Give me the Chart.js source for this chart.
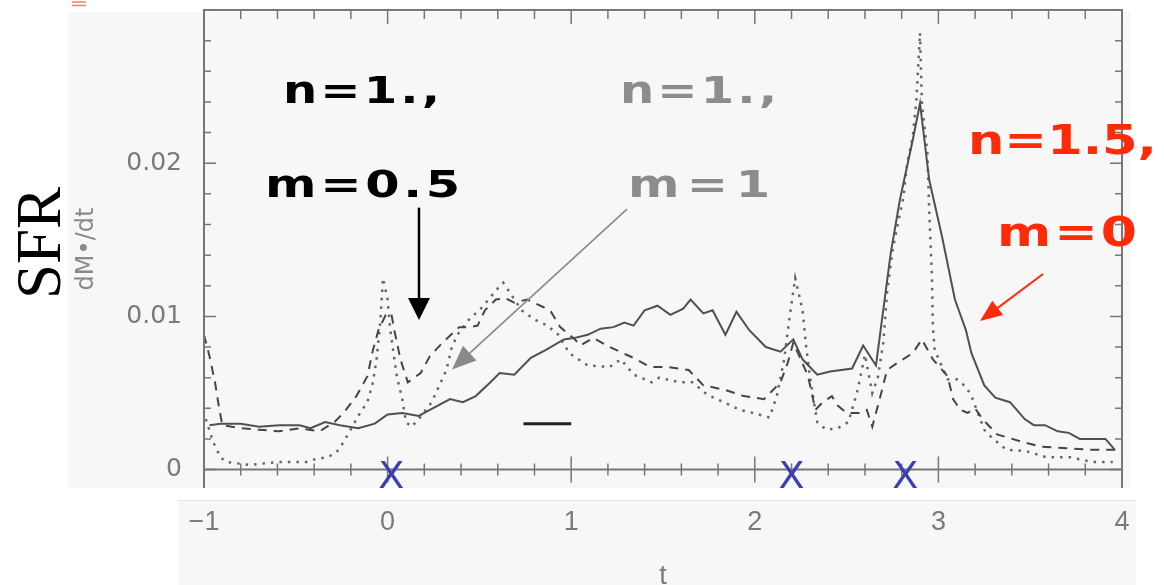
<!DOCTYPE html>
<html><head><meta charset="utf-8">
<script src="https://cdn.jsdelivr.net/npm/chart.js@4.4.0/dist/chart.umd.min.js"></script>
<style>html,body{margin:0;padding:0;background:#fff;}canvas{display:block;}</style>
</head><body>
<canvas id="c" width="1164" height="585"></canvas>
<script>
// ---- data ----
const solidT = [-0.97,-0.91,-0.80,-0.70,-0.59,-0.48,-0.42,-0.34,-0.26,-0.16,-0.07,0.00,0.08,0.17,0.20,0.34,0.41,0.48,0.56,0.61,0.69,0.78,0.86,0.96,1.02,1.09,1.16,1.23,1.29,1.34,1.40,1.47,1.54,1.61,1.65,1.72,1.77,1.84,1.90,1.97,2.06,2.14,2.21,2.26,2.34,2.41,2.53,2.59,2.66,2.74,2.79,2.86,2.90,2.95,3.02,3.09,3.15,3.18,3.25,3.31,3.39,3.47,3.52,3.58,3.65,3.71,3.77,3.85,3.91,3.96];
const solidV = [0.0029,0.0030,0.0030,0.0028,0.0029,0.0029,0.0027,0.0031,0.0029,0.0027,0.0030,0.0036,0.0037,0.0035,0.0037,0.0046,0.0044,0.0048,0.0057,0.0063,0.0062,0.0073,0.0078,0.0085,0.0086,0.0088,0.0092,0.0093,0.0096,0.0094,0.0104,0.0107,0.0101,0.0105,0.0111,0.0102,0.0104,0.0088,0.0103,0.0091,0.0080,0.0077,0.0085,0.0072,0.0062,0.0064,0.0066,0.0081,0.0068,0.0141,0.0176,0.0215,0.0239,0.0189,0.0152,0.0111,0.0091,0.0076,0.0055,0.0047,0.0044,0.0033,0.0029,0.0029,0.0025,0.0024,0.0020,0.0020,0.0020,0.0013];

const dashedT = [-1.00,-0.97,-0.94,-0.92,-0.90,-0.80,-0.70,-0.59,-0.48,-0.37,-0.29,-0.24,-0.17,-0.11,-0.08,-0.05,-0.01,0.02,0.04,0.07,0.11,0.18,0.23,0.30,0.39,0.45,0.49,0.53,0.59,0.64,0.69,0.76,0.85,0.89,0.94,1.02,1.05,1.12,1.21,1.32,1.43,1.52,1.64,1.72,1.84,1.94,2.05,2.14,2.18,2.21,2.29,2.33,2.37,2.42,2.45,2.50,2.57,2.61,2.64,2.68,2.72,2.78,2.86,2.91,2.97,3.05,3.08,3.12,3.16,3.20,3.24,3.32,3.46,3.56,3.70,3.83,3.97];
const dashedV = [0.0088,0.0074,0.0057,0.0042,0.0029,0.0027,0.0026,0.0025,0.0027,0.0025,0.0031,0.0037,0.0048,0.0061,0.0078,0.0091,0.0101,0.0102,0.0089,0.0072,0.0057,0.0063,0.0074,0.0083,0.0093,0.0093,0.0094,0.0104,0.0111,0.0112,0.0109,0.0111,0.0106,0.0103,0.0093,0.0085,0.0081,0.0086,0.0080,0.0074,0.0067,0.0067,0.0065,0.0055,0.0052,0.0048,0.0046,0.0057,0.0070,0.0083,0.0061,0.0039,0.0044,0.0048,0.0042,0.0037,0.0037,0.0039,0.0028,0.0046,0.0065,0.0070,0.0076,0.0085,0.0072,0.0061,0.0046,0.0039,0.0037,0.0040,0.0033,0.0023,0.0018,0.0015,0.0014,0.0013,0.0013];

const dottedT = [-0.99,-0.95,-0.91,-0.88,-0.75,-0.60,-0.52,-0.44,-0.39,-0.33,-0.28,-0.24,-0.15,-0.11,-0.08,-0.06,-0.04,-0.025,0.00,0.013,0.03,0.05,0.08,0.10,0.13,0.17,0.24,0.29,0.32,0.35,0.38,0.45,0.50,0.55,0.59,0.63,0.68,0.73,0.80,0.87,0.93,0.99,1.09,1.21,1.27,1.34,1.44,1.48,1.59,1.66,1.74,1.83,1.92,1.99,2.08,2.12,2.16,2.19,2.22,2.26,2.28,2.30,2.34,2.39,2.45,2.51,2.56,2.60,2.64,2.67,2.70,2.72,2.75,2.78,2.81,2.83,2.86,2.88,2.90,2.91,2.94,2.95,2.965,2.97,2.98,3.05,3.10,3.15,3.18,3.25,3.29,3.37,3.48,3.59,3.72,3.84,3.95];
const dottedV = [0.0033,0.0018,0.0008,0.0005,0.0003,0.0005,0.0005,0.0005,0.0007,0.0008,0.0011,0.0018,0.0037,0.0044,0.0057,0.0072,0.0096,0.0125,0.0111,0.0093,0.0078,0.0061,0.0046,0.0031,0.0028,0.0033,0.0044,0.0057,0.0065,0.0080,0.0088,0.0099,0.0104,0.0111,0.0117,0.0122,0.0113,0.0104,0.0098,0.0094,0.0088,0.0076,0.0068,0.0067,0.0072,0.0062,0.0057,0.0060,0.0057,0.0057,0.0049,0.0044,0.0039,0.0037,0.0034,0.0048,0.0072,0.0100,0.0125,0.0104,0.0080,0.0061,0.0031,0.0026,0.0027,0.0031,0.0052,0.0075,0.0050,0.0060,0.0083,0.0115,0.0143,0.0161,0.0178,0.0200,0.0217,0.0241,0.0285,0.0239,0.0207,0.0169,0.0126,0.0093,0.0078,0.0059,0.0059,0.0054,0.0048,0.0026,0.0021,0.0013,0.0012,0.0008,0.0008,0.0005,0.0005];

const barT = [0.74, 1.00];
const barV = [0.003, 0.003];

const markerT = [0.02, 2.20, 2.82];   // blue X marks on the time axis

const xTickValues = [-1, 0, 1, 2, 3, 4];
const xTickLabels = ['\u22121', '0', '1', '2', '3', '4'];
const yTickValues = [0, 0.01, 0.02];
const yTickLabels = ['0', '0.01', '0.02'];

// ---- helpers ----
const pts = (t, v) => t.map((x, i) => ({x: x, y: v[i]}));

function arrow(ctx, x1, y1, x2, y2, color, lw, hl, hw) {
  const a = Math.atan2(y2 - y1, x2 - x1);
  const bx = x2 - hl * Math.cos(a), by = y2 - hl * Math.sin(a);
  ctx.save();
  ctx.strokeStyle = color; ctx.fillStyle = color; ctx.lineWidth = lw;
  ctx.beginPath(); ctx.moveTo(x1, y1); ctx.lineTo(bx, by); ctx.stroke();
  ctx.beginPath();
  ctx.moveTo(x2, y2);
  ctx.lineTo(bx + hw / 2 * Math.sin(a), by - hw / 2 * Math.cos(a));
  ctx.lineTo(bx - hw / 2 * Math.sin(a), by + hw / 2 * Math.cos(a));
  ctx.closePath(); ctx.fill();
  ctx.restore();
}

function handText(ctx, text, left, baseline, width, size, color) {
  ctx.save();
  ctx.font = 'bold ' + size + 'px "DejaVu Sans"';
  let w = ctx.measureText(text).width;
  let scale = width / w;
  const maxScale = 1.3;
  if (scale > maxScale && 'letterSpacing' in ctx) {
    const sp = (width / maxScale - w) / (text.length - 1);
    ctx.letterSpacing = sp + 'px';
    w = ctx.measureText(text).width - sp;
    scale = width / w;
  }
  ctx.translate(left, baseline);
  ctx.scale(scale, 1);
  ctx.fillStyle = color;
  ctx.textBaseline = 'alphabetic';
  ctx.textAlign = 'left';
  ctx.fillText(text, 0, 0);
  ctx.restore();
}

const decor = {
  id: 'decor',
  beforeDraw(chart) {
    const ctx = chart.ctx, a = chart.chartArea;
    ctx.save();
    ctx.fillStyle = '#ffffff'; ctx.fillRect(0, 0, chart.width, chart.height);
    ctx.fillStyle = '#f7f7f7';
    ctx.fillRect(68, a.top + 2, a.right + 8 - 68, a.bottom - a.top - 2);
    ctx.fillRect(178, a.bottom + 12, a.right + 14 - 178, chart.height - a.bottom - 12);
    ctx.strokeStyle = '#e2e2ea'; ctx.lineWidth = 1;
    ctx.beginPath(); ctx.moveTo(178, a.bottom + 12.5); ctx.lineTo(a.right + 14, a.bottom + 12.5); ctx.stroke();
    // small red fragment at the very top-left
    ctx.strokeStyle = '#f08070'; ctx.lineWidth = 1.5;
    ctx.beginPath(); ctx.moveTo(72, 2); ctx.lineTo(86, 2); ctx.moveTo(72, 5.5); ctx.lineTo(86, 5.5); ctx.stroke();
    ctx.restore();
  },
  afterDatasetsDraw(chart) {
    const ctx = chart.ctx, a = chart.chartArea, xs = chart.scales.x, ys = chart.scales.y;
    ctx.save();
    ctx.strokeStyle = '#777'; ctx.lineWidth = 2;
    // frame (left, top, right)
    ctx.beginPath();
    ctx.moveTo(a.left, a.bottom); ctx.lineTo(a.left, a.top); ctx.lineTo(a.right, a.top); ctx.lineTo(a.right, a.bottom);
    ctx.stroke();
    // zero line
    const y0 = ys.getPixelForValue(0);
    ctx.beginPath(); ctx.moveTo(a.left, y0); ctx.lineTo(a.right, y0); ctx.stroke();
    // y ticks, left and right, inward
    ctx.lineWidth = 1.5;
    for (let i = 0; i <= 15; i++) {
      const py = ys.getPixelForValue(i * 0.002);
      const len = (i % 5 === 0) ? 12 : 7;
      ctx.beginPath();
      ctx.moveTo(a.left, py); ctx.lineTo(a.left + len, py);
      ctx.moveTo(a.right, py); ctx.lineTo(a.right - len, py);
      ctx.stroke();
    }
    // x ticks: top (inward) and on the zero line (both sides)
    for (let i = 0; i <= 25; i++) {
      const px = xs.getPixelForValue(-1 + i * 0.2);
      const major = i % 5 === 0;
      ctx.beginPath();
      ctx.moveTo(px, a.top); ctx.lineTo(px, a.top + (major ? 14 : 9));
      ctx.moveTo(px, y0 - (major ? 13 : 6)); ctx.lineTo(px, y0 + (major ? 13 : 6));
      ctx.stroke();
    }
    ctx.restore();
  },
  afterDraw(chart) {
    const ctx = chart.ctx, xs = chart.scales.x, ys = chart.scales.y;
    const X = (t) => xs.getPixelForValue(t), Y = (v) => ys.getPixelForValue(v);
    // blue X marks
    ctx.save();
    ctx.fillStyle = '#3c3cb4';
    ctx.font = '38px "DejaVu Sans"';
    ctx.textAlign = 'center'; ctx.textBaseline = 'middle';
    markerT.forEach(t => ctx.fillText('X', X(t), Y(-0.00055)));
    ctx.restore();
    // arrows
    arrow(ctx, X(0.171), Y(0.0171), X(0.171), Y(0.00976), '#000', 2.5, 22, 22);
    arrow(ctx, X(1.304), Y(0.0170), X(0.351), Y(0.00654), '#8a8a8a', 1.6, 24, 20);
    arrow(ctx, X(3.570), Y(0.01277), X(3.227), Y(0.0097), '#ff2a0a', 2, 22, 18);
    // annotation texts
    handText(ctx, 'n=1.,', 283, 103, 157, 37, '#000');
    handText(ctx, 'm=0.5', 265, 197, 195, 38, '#000');
    handText(ctx, 'n=1.,', 620, 103, 157, 37, '#8c8c8c');
    handText(ctx, 'm=1', 628, 197, 142, 38, '#8c8c8c');
    handText(ctx, 'n=1.5,', 968, 154, 189, 40, '#ff2a0a');
    handText(ctx, 'm=0', 997, 246, 140, 40, '#ff2a0a');
    // SFR label
    ctx.save();
    ctx.translate(60, 243); ctx.rotate(-Math.PI / 2);
    ctx.font = '63px "Liberation Serif"';
    ctx.fillStyle = '#000'; ctx.textAlign = 'center'; ctx.textBaseline = 'alphabetic';
    ctx.fillText('SFR', 0, 0);
    ctx.restore();
  }
};

new Chart(document.getElementById('c'), {
  type: 'scatter',
  data: {
    datasets: [
      { label: 'n=1.5, m=0', data: pts(solidT, solidV), showLine: true, borderColor: '#505050', borderWidth: 2, pointRadius: 0, tension: 0 },
      { label: 'n=1., m=0.5', data: pts(dashedT, dashedV), showLine: true, borderColor: '#454545', borderWidth: 2, borderDash: [9, 7], pointRadius: 0, tension: 0 },
      { label: 'n=1., m=1', data: pts(dottedT, dottedV), showLine: true, borderColor: '#666', borderWidth: 2.5, borderDash: [2.5, 6], pointRadius: 0, tension: 0 },
      { label: 'bar', data: pts(barT, barV), showLine: true, borderColor: '#222', borderWidth: 3, pointRadius: 0 }
    ]
  },
  options: {
    responsive: false,
    animation: false,
    devicePixelRatio: 1,
    layout: { padding: { left: 0, right: 42, top: 10, bottom: 0 } },
    plugins: { legend: { display: false }, tooltip: { enabled: false } },
    scales: {
      x: {
        type: 'linear', position: 'bottom', min: -1, max: 4,
        afterBuildTicks: (s) => { s.ticks = xTickValues.map(v => ({ value: v })); },
        afterFit: (s) => { s.height = 97; s.paddingLeft = 0; s.paddingRight = 0; },
        grid: { display: false, drawTicks: false },
        border: { display: false },
        ticks: {
          autoSkip: false, maxRotation: 0, padding: 18, color: '#7a7a7a',
          font: { family: '"Liberation Sans"', size: 27 },
          callback: (v, i) => xTickLabels[i]
        },
        title: { display: true, text: 't', color: '#7a7a7a', font: { family: '"Liberation Sans"', size: 27 }, padding: { top: 0, bottom: -8 } }
      },
      y: {
        type: 'linear', position: 'left', min: -0.0012, max: 0.03,
        afterBuildTicks: (s) => { s.ticks = yTickValues.map(v => ({ value: v })); },
        afterFit: (s) => { s.width = 204; s.paddingTop = 0; s.paddingBottom = 0; },
        grid: { display: false, drawTicks: false },
        border: { display: false },
        ticks: {
          autoSkip: false, padding: 22, color: '#7a7a7a',
          font: { family: '"DejaVu Sans"', size: 25 },
          callback: (v, i) => yTickLabels[i]
        },
        title: { display: true, text: 'dM\u2022/dt', color: '#8a8a8a', font: { family: '"DejaVu Sans"', size: 24 }, padding: { top: 72, bottom: 0 } }
      }
    }
  },
  plugins: [decor]
});
</script>
</body></html>
